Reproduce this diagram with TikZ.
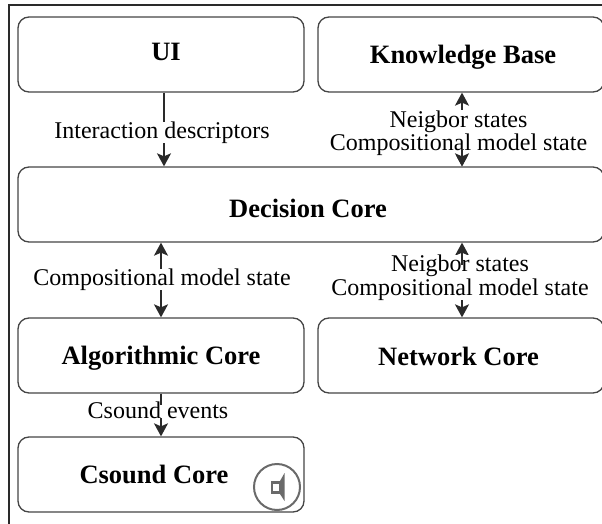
\documentclass[tikz,border=0pt]{standalone}
\usepackage{fontspec}
\setmainfont{Liberation Serif}
\usetikzlibrary{arrows.meta,calc}
\definecolor{boxline}{HTML}{454545}
\definecolor{ink}{HTML}{2A2A2A}
\definecolor{icon}{HTML}{6A6A6A}
\tikzset{
  corebox/.style={draw=boxline,line width=1.3pt,rounded corners=11pt,fill=white,inner sep=0pt,
    minimum height=75pt},
  title/.style={anchor=base,inner sep=0pt,text=black,font=\fontsize{26.5}{30}\selectfont\bfseries},
  link/.style={draw=ink,line width=1.8pt,-{Stealth[length=13pt,width=14pt,inset=3pt]}},
  dlink/.style={draw=ink,line width=1.8pt,{Stealth[length=13pt,width=14pt,inset=3pt]}-{Stealth[length=13pt,width=14pt,inset=3pt]}},
  stub/.style={draw=ink,line width=1.8pt},
  lab/.style={fill=white,inner sep=0pt,align=center,text=black,font=\fontsize{24}{23.5}\selectfont},
}
\begin{document}
\begin{tikzpicture}[x=1pt,y=-1pt]
\useasboundingbox (0,0) rectangle (602,524);
\draw[ink,line width=2pt] (9,524) -- (9,5) -- (602,5);
\node[corebox,minimum width=286pt] (ui) at (161,54.5) {};
\node[title] (uit) at (166,61) {UI};
\node[corebox,minimum width=286pt] (kb) at (461,54.5) {};
\node[title] (kbt) at (463,64) {Knowledge Base};
\node[corebox,minimum width=586pt] (dc) at (311,204.5) {};
\node[title] (dct) at (308,217) {Decision Core};
\node[corebox,minimum width=286pt] (ac) at (161,355.5) {};
\node[title] (act) at (161,364) {Algorithmic Core};
\node[corebox,minimum width=286pt] (nc) at (461,355.5) {};
\node[title] (nct) at (458.5,365) {Network Core};
\node[corebox,minimum width=286pt] (cc) at (161,474.5) {};
\node[title] (cct) at (154,483) {Csound Core};
\coordinate (xa) at (164,0);
\coordinate (xb) at (161,0);
\coordinate (xc) at (462,0);
\draw[link] (ui.south -| xa) -- (dc.north -| xa);
\draw[dlink] (dc.south -| xb) -- (ac.north -| xb);
\draw[link] (ac.south -| xb) -- (cc.north -| xb);
\draw[dlink] (kb.south -| xc) -- (dc.north -| xc);
\draw[dlink] (dc.south -| xc) -- (nc.north -| xc);
\node[lab] (l1) at (162,132.5) {Interaction descriptors};
\node[lab] (l2) at (162,279.5) {Compositional model state};
\node[lab] (l3) at (158,410) {Csound events};
\node[lab] (l4) at (458.5,133) {Neigbor states\\Compositional model state};
\node[lab] (l5) at (460,277.5) {Neigbor states\\Compositional model state};
\draw[stub] (ac.south -| xb) -- ($(ac.south -| xb)+(0,11)$);
\draw[stub] (dc.south -| xc) ++(0,8) -- ++(0,14);
\draw[link] ($(dc.north -| xc)+(0,-17)$) -- (dc.north -| xc);
\draw[icon,line width=2pt] (277,487) circle (23pt);
\draw[icon,line width=2.5pt] (272,482.5) rectangle (280,492.5);
\fill[icon] (280,481) -- (284.5,473) -- (284.5,501) -- (280,494) -- cycle;
\end{tikzpicture}
\end{document}
